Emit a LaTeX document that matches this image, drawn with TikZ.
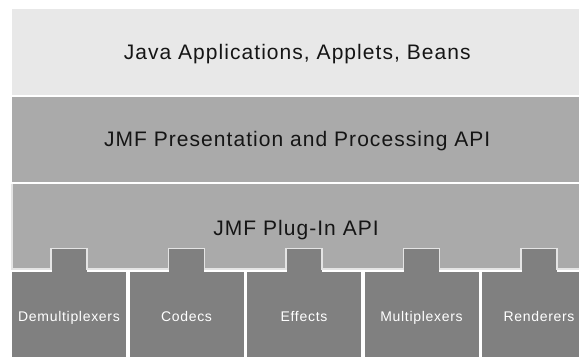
\documentclass[tikz,border=0pt]{standalone}
\usepackage{fontspec}
\setmainfont{Liberation Sans}
\newfontfamily\spacedfont[LetterSpace=5]{Liberation Sans}
\usepackage{xcolor}
\usetikzlibrary{positioning}
\definecolor{appbg}{HTML}{E8E8E8}
\definecolor{apibg}{HTML}{AAAAAA}
\definecolor{partbg}{HTML}{808080}
\definecolor{edgeclr}{HTML}{E4E4E4}
\definecolor{textdark}{HTML}{151515}

\begin{document}
\begin{tikzpicture}[x=1pt,y=1pt,
  band/.style={anchor=south west,minimum width=570pt,minimum height=86pt,inner sep=0pt,
    text height=19pt,text depth=4pt,
    font=\spacedfont\fontsize{21}{24}\selectfont,text=textdark},
  part/.style={fill=partbg,minimum width=114pt,minimum height=85pt,inner sep=0pt,
    text height=16pt,text depth=3pt,
    font=\spacedfont\fontsize{14}{16}\selectfont,text=white}]
\useasboundingbox (0,0) rectangle (579,357);
\fill[white] (0,0) rectangle (579,357);

\node[band,fill=appbg] (apps) at (12,262) {Java Applications, Applets, Beans};
\node[band,fill=apibg,minimum height=85pt] (present) at (12,175) {JMF Presentation and Processing API};

\fill[apibg] (12,88) \foreach \c in {69,186.5,304,421.5,539}{ -- ({\c-18},88) -- ({\c-18},108.5) -- ({\c+18},108.5) -- ({\c+18},88)} -- (582,88) -- (582,173) -- (12,173) -- cycle;

\foreach \lbl [count=\i] in {Demultiplexers,Codecs,Effects,Multiplexers,Renderers}{
  \node[part] (box\i) at ({69+117.5*(\i-1)},42.5) {\lbl};
  \fill[partbg] ([xshift=-17.5pt]box\i.north) rectangle ([xshift=17.5pt,yshift=23pt]box\i.north);
}

\draw[edgeclr,line width=1.5pt] (12,173) -- (12,88) \foreach \c in {69,186.5,304,421.5,539}{ -- ({\c-18},88) -- ({\c-18},108.5) -- ({\c+18},108.5) -- ({\c+18},88)} -- (582,88);

\node[font=\spacedfont\fontsize{21}{24}\selectfont,text=textdark] (plugin) at (296,127) {JMF Plug-In API};
\end{tikzpicture}
\end{document}
